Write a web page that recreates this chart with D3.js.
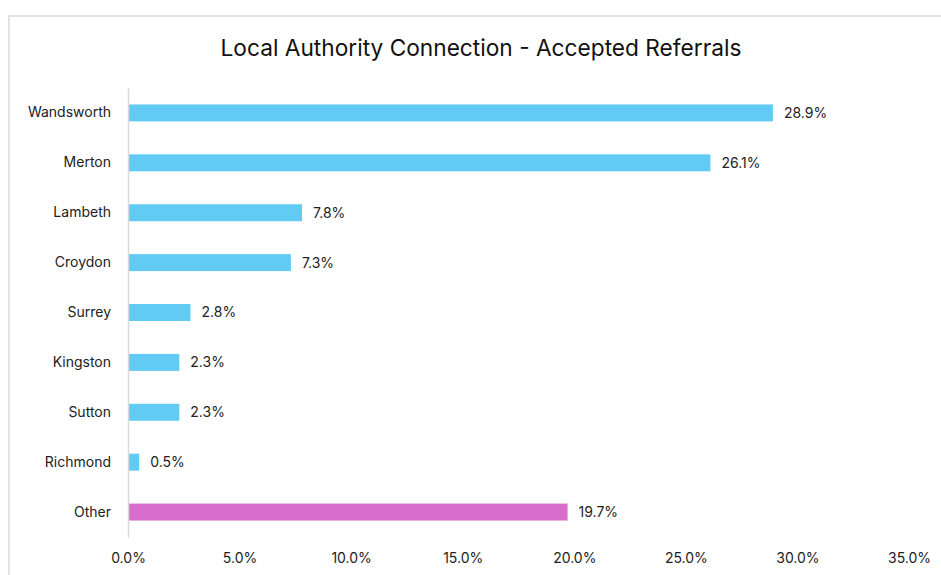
<!DOCTYPE html>
<html>
<head>
<meta charset="utf-8">
<script src="https://cdn.jsdelivr.net/npm/d3@7"></script>
<style>
  body { margin: 0; background: #fff; }
  text { font-family: Inter, "Open Sans", sans-serif; }
</style>
</head>
<body>
<script>
// data
var categories = ["Wandsworth", "Merton", "Lambeth", "Croydon", "Surrey", "Kingston", "Sutton", "Richmond", "Other"];
var values = [28.9, 26.1, 7.8, 7.3, 2.8, 2.3, 2.3, 0.5, 19.7];
var xTicks = [0, 5, 10, 15, 20, 25, 30, 35];

var width = 941, height = 575;
var margin = { top: 88, right: 32, bottom: 38, left: 128 };

var svg = d3.select("body").append("svg")
  .attr("width", width)
  .attr("height", height);

// chart frame
svg.append("rect")
  .attr("x", 9).attr("y", 16)
  .attr("width", 960).attr("height", 600)
  .attr("fill", "none")
  .attr("stroke", "#d9d9d9")
  .attr("stroke-width", 1.5);

svg.append("text")
  .attr("x", 481).attr("y", 56)
  .attr("text-anchor", "middle")
  .attr("font-size", 22.7)
  .attr("fill", "#111")
  .text("Local Authority Connection - Accepted Referrals");

var x = d3.scaleLinear()
  .domain([0, 35])
  .range([margin.left, width - margin.right]);

var y = d3.scaleBand()
  .domain(categories)
  .range([margin.top, height - margin.bottom])
  .paddingInner(0.66)
  .paddingOuter(0.33);

// bars
svg.selectAll("rect.bar")
  .data(values)
  .enter()
  .append("rect")
  .attr("class", "bar")
  .attr("x", x(0))
  .attr("y", function(d, i) { return y(categories[i]); })
  .attr("width", function(d) { return x(d) - x(0); })
  .attr("height", y.bandwidth())
  .attr("fill", function(d, i) { return categories[i] == "Other" ? "#d86dcd" : "#61cbf3"; });

// value labels
svg.selectAll("text.val")
  .data(values)
  .enter()
  .append("text")
  .attr("class", "val")
  .attr("x", function(d) { return x(d) + 11; })
  .attr("y", function(d, i) { return y(categories[i]) + y.bandwidth() / 2; })
  .attr("dy", "0.35em")
  .attr("font-size", 14)
  .attr("fill", "#222")
  .text(function(d) { return d.toFixed(1) + "%"; });

// y axis
var yAxis = svg.append("g")
  .attr("transform", "translate(" + x(0) + ",0)")
  .call(d3.axisLeft(y).tickSize(0).tickPadding(17));
yAxis.select(".domain").attr("stroke", "#d9d9d9").attr("stroke-width", 1.5);
yAxis.selectAll("text").attr("font-size", 14).attr("fill", "#222");

// x axis (labels only)
var xAxis = svg.append("g")
  .attr("transform", "translate(0," + (height - margin.bottom) + ")")
  .call(d3.axisBottom(x).tickValues(xTicks).tickSize(0).tickPadding(16)
    .tickFormat(function(d) { return d.toFixed(1) + "%"; }));
xAxis.select(".domain").remove();
xAxis.selectAll("text").attr("font-size", 14).attr("fill", "#222");
</script>
</body>
</html>
